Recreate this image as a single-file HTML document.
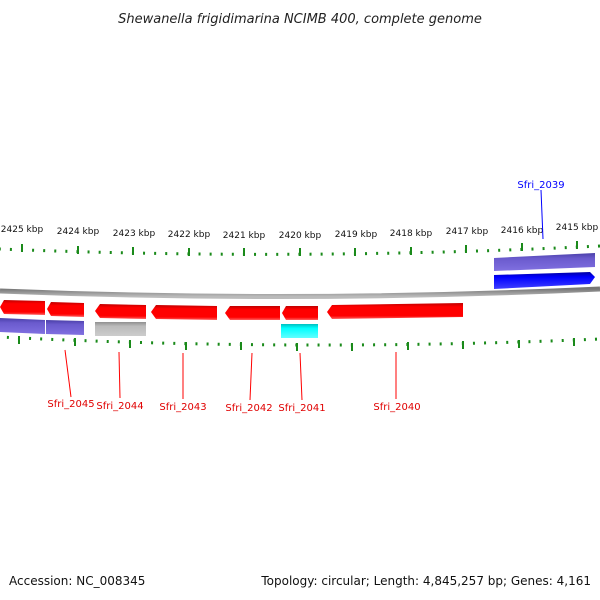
<!DOCTYPE html>
<html><head><style>body{margin:0;background:#fff}svg{display:block}</style></head><body>
<svg width="600" height="600" xmlns="http://www.w3.org/2000/svg" font-family="'DejaVu Sans','Liberation Sans',sans-serif">
<defs>
<linearGradient id="r" x1="0" y1="0" x2="0" y2="1"><stop offset="0" stop-color="#c00000"/><stop offset="0.25" stop-color="#f00"/><stop offset="0.8" stop-color="#f00"/><stop offset="1" stop-color="#ff6060"/></linearGradient>
<linearGradient id="p" x1="0" y1="0" x2="0" y2="1"><stop offset="0" stop-color="#4a3fa8"/><stop offset="0.3" stop-color="#6a5acd"/><stop offset="1" stop-color="#8070e0"/></linearGradient>
<linearGradient id="g" x1="0" y1="0" x2="0" y2="1"><stop offset="0" stop-color="#909090"/><stop offset="0.3" stop-color="#bbb"/><stop offset="1" stop-color="#ccc"/></linearGradient>
<linearGradient id="c" x1="0" y1="0" x2="0" y2="1"><stop offset="0" stop-color="#00c0c0"/><stop offset="0.3" stop-color="#0ff"/><stop offset="1" stop-color="#60ffff"/></linearGradient>
<linearGradient id="b" x1="0" y1="0" x2="0" y2="1"><stop offset="0" stop-color="#0000a0"/><stop offset="0.3" stop-color="#00f"/><stop offset="1" stop-color="#4040ff"/></linearGradient>
<linearGradient id="l" x1="0" y1="0" x2="0" y2="1"><stop offset="0" stop-color="#777"/><stop offset="0.5" stop-color="#999"/><stop offset="1" stop-color="#bbb"/></linearGradient>
</defs>
<text x="300" y="23" text-anchor="middle" font-size="13" font-style="italic" fill="#222">Shewanella frigidimarina NCIMB 400, complete genome</text>

<path d="M0,291 Q300,303 600,289" stroke="url(#l)" stroke-width="5" fill="none"/>

<!-- minor ticks -->
<path d="M0,249 Q300,261 600,246" fill="none" stroke="#1a8a1a" stroke-width="3" stroke-dasharray="2 9.1" stroke-dashoffset="-9.9"/>
<path d="M0,337 Q300,352 600,339" fill="none" stroke="#1a8a1a" stroke-width="3" stroke-dasharray="2 9.1" stroke-dashoffset="-6.9"/>
<!-- major ticks -->
<g stroke="#1a8a1a" stroke-width="2">
<line x1="22" y1="244" x2="22" y2="252"/><line x1="78" y1="246" x2="78" y2="254"/><line x1="133" y1="247" x2="133" y2="255"/><line x1="189" y1="248" x2="189" y2="256"/><line x1="244" y1="248" x2="244" y2="256"/><line x1="300" y1="248" x2="300" y2="256"/><line x1="355" y1="248" x2="355" y2="256"/><line x1="411" y1="247" x2="411" y2="255"/><line x1="466" y1="245" x2="466" y2="253"/><line x1="522" y1="243" x2="522" y2="251"/><line x1="577" y1="241" x2="577" y2="249"/>
<line x1="19" y1="336" x2="19" y2="344"/><line x1="75" y1="338" x2="75" y2="346"/><line x1="130" y1="340" x2="130" y2="348"/><line x1="186" y1="342" x2="186" y2="350"/><line x1="241" y1="342" x2="241" y2="350"/><line x1="297" y1="343" x2="297" y2="351"/><line x1="352" y1="343" x2="352" y2="351"/><line x1="408" y1="342" x2="408" y2="350"/><line x1="463" y1="341" x2="463" y2="349"/><line x1="519" y1="340" x2="519" y2="348"/><line x1="574" y1="338" x2="574" y2="346"/>
</g>

<g font-size="9" fill="#111" text-anchor="middle">
<text x="22" y="232">2425 kbp</text><text x="78" y="234">2424 kbp</text><text x="134" y="236">2423 kbp</text><text x="189" y="237">2422 kbp</text><text x="244" y="238">2421 kbp</text><text x="300" y="238">2420 kbp</text><text x="356" y="237">2419 kbp</text><text x="411" y="236">2418 kbp</text><text x="467" y="234">2417 kbp</text><text x="522" y="233">2416 kbp</text><text x="577" y="230">2415 kbp</text>
</g>

<polygon points="4,300 45,301 45,315 4,314 0,307" fill="url(#r)"/>
<polygon points="51,302 84,303 84,317 51,316 47,309" fill="url(#r)"/>
<polygon points="100,304 146,305 146,319 100,318 95,311" fill="url(#r)"/>
<polygon points="156,305 217,306 217,320 156,319 151,312" fill="url(#r)"/>
<polygon points="230,306 280,306 280,320 230,320 225,313" fill="url(#r)"/>
<polygon points="286,306 318,306 318,320 286,320 282,313" fill="url(#r)"/>
<polygon points="332,305 463,303 463,317 332,319 327,312" fill="url(#r)"/>
<polygon points="0,318 45,320 45,334 0,332" fill="url(#p)"/>
<polygon points="46,320 84,321 84,335 46,334" fill="url(#p)"/>
<rect x="95" y="322" width="51" height="14" fill="url(#g)"/>
<rect x="281" y="324" width="37" height="14" fill="url(#c)"/>
<polygon points="494,258 595,253 595,267 494,271" fill="url(#p)"/>
<polygon points="494,275 590,272 595,277 590,284 494,289" fill="url(#b)"/>

<g stroke="#f00" stroke-width="1">
<line x1="65" y1="350" x2="71" y2="397"/><line x1="119" y1="352" x2="120" y2="398"/><line x1="183" y1="353" x2="183" y2="399"/><line x1="252" y1="353" x2="250" y2="400"/><line x1="300" y1="353" x2="302" y2="400"/><line x1="396" y1="352" x2="396" y2="399"/>
</g>
<g font-size="10" fill="#e00000" text-anchor="middle">
<text x="71" y="407">Sfri_2045</text><text x="120" y="409">Sfri_2044</text><text x="183" y="410">Sfri_2043</text><text x="249" y="411">Sfri_2042</text><text x="302" y="411">Sfri_2041</text><text x="397" y="410">Sfri_2040</text>
</g>
<line x1="541" y1="190" x2="543" y2="239" stroke="#00f"/>
<text x="541" y="188" font-size="10" fill="#00f" text-anchor="middle">Sfri_2039</text>

<text x="9" y="585" font-size="12" fill="#111">Accession: NC_008345</text>
<text x="591" y="585" font-size="12" fill="#111" text-anchor="end">Topology: circular; Length: 4,845,257 bp; Genes: 4,161</text>
</svg>
</body></html>
